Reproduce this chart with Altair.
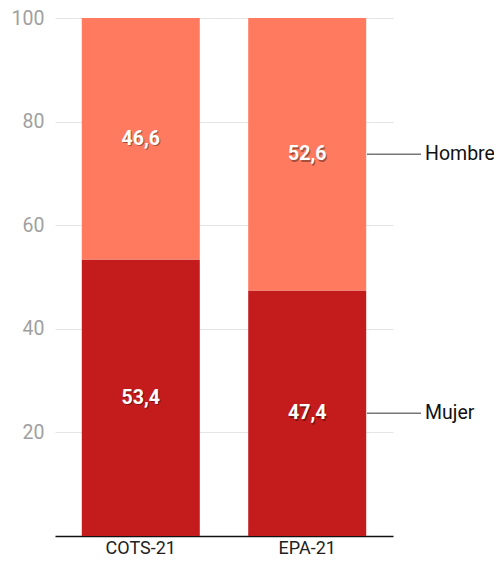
import altair as alt
import pandas as pd

categories = ["COTS-21", "EPA-21"]
groups = ["Mujer", "Hombre"]
mujer = [53.4, 47.4]
hombre = [46.6, 52.6]
y_ticks = [20, 40, 60, 80, 100]

rows = []
for i, c in enumerate(categories):
    rows.append({"cat": c, "grupo": "Mujer", "value": mujer[i], "ord": 0})
    rows.append({"cat": c, "grupo": "Hombre", "value": hombre[i], "ord": 1})
df = pd.DataFrame(rows)

colors = ["#c41c1c", "#ff7a5f"]
FONT = "Roboto"

x_enc = alt.X("cat:N", sort=categories, title=None,
              scale=alt.Scale(paddingInner=0.293, paddingOuter=0.162),
              axis=alt.Axis(labelAngle=0, labelFont=FONT, labelFontSize=18,
                            labelColor="#212121", ticks=False, domainColor="#111111",
                            domainWidth=1.5, labelPadding=3, grid=False))

base = alt.Chart(df)

bars = base.mark_bar(size=118).encode(
    x=x_enc,
    y=alt.Y("value:Q", stack="zero", title=None,
            scale=alt.Scale(domain=[0, 100], nice=False),
            axis=alt.Axis(values=y_ticks, labelFont=FONT, labelFontSize=19.5,
                          labelColor="#a0a0a0", ticks=False, domain=False,
                          gridColor="#e4e4e4", gridWidth=1, labelPadding=11)),
    color=alt.Color("grupo:N", scale=alt.Scale(domain=groups, range=colors), legend=None),
    order=alt.Order("ord:Q"),
)

stacked = base.transform_stack(
    stack="value", as_=["y0", "y1"], groupby=["cat"], sort=[alt.SortField("ord")]
).transform_calculate(
    mid="(datum.y0 + datum.y1) / 2",
    label="replace(format(datum.value, '.1f'), '.', ',')",
)

shadow = stacked.mark_text(font=FONT, fontSize=19.5, fontWeight="bold", color="#000000",
                           opacity=0.35, dx=1, dy=1.5).encode(
    x=alt.X("cat:N", sort=categories), y=alt.Y("mid:Q"), text="label:N")
labels = stacked.mark_text(font=FONT, fontSize=19.5, fontWeight="bold", color="white").encode(
    x=alt.X("cat:N", sort=categories), y=alt.Y("mid:Q"), text="label:N")

ann = stacked.transform_filter(alt.datum.cat == categories[-1])
ann_rule = ann.mark_rule(color="#777777", strokeWidth=1.3).encode(
    x=alt.value(312), x2=alt.value(366), y=alt.Y("mid:Q"))
ann_text = ann.mark_text(font=FONT, fontSize=19.5, align="left", color="#111111", dx=0).encode(
    x=alt.value(370), y=alt.Y("mid:Q"), text="grupo:N")

chart = alt.layer(bars, shadow, labels, ann_rule, ann_text).properties(
    width=338, height=518,
    autosize=alt.AutoSizeParams(type="none"),
    padding={"left": 47, "top": 10, "right": 101, "bottom": 24},
).configure_view(stroke=None).configure_axisY(gridDash=[])

chart.save("out.html", embed_options={"renderer": "svg", "actions": False})
